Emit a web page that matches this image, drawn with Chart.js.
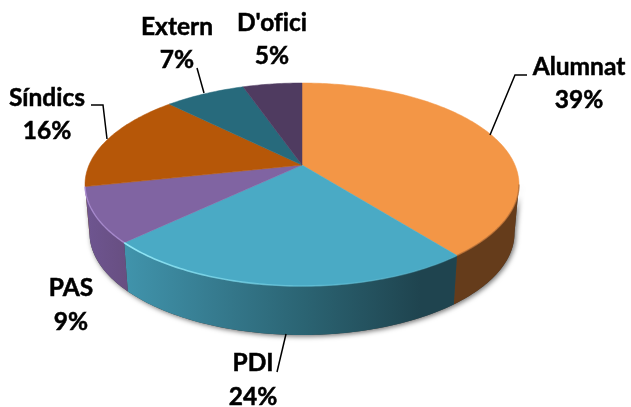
<!DOCTYPE html>
<html>
<head>
<meta charset="utf-8">
<style>
html, body { margin: 0; padding: 0; background: #fff; overflow: hidden; }
canvas { display: block; }
</style>
<script src="https://cdn.jsdelivr.net/npm/chart.js@4"></script>
</head>
<body>
<canvas id="chart" width="631" height="407"></canvas>
<script>
const categories = ["Alumnat", "PDI", "PAS", "Síndics", "Extern", "D'ofici"];
// read from the slice seams; the labels show them rounded
const shares = [39.4, 23.5, 8.7, 15.9, 7.2, 5.3];

const topColors = ["#F39646", "#4AAAC5", "#8064A2", "#B65708", "#276A7C", "#4F3B60"];
const wallColors = ["#653C1B", "#2F6E80", "#6A5185", "#7A3A06", "#1A4753", "#352840"];

// text anchors: x, y of the name line, y of the percent line
const labelX = [579, 253, 71, 47, 177, 272];
const labelNameY = [67, 363, 288, 98, 27, 23];
const labelPctY = [100, 397, 322, 131, 60, 56];

const leaders = [
    [[490, 135], [515, 75], [527, 75]],
    [[286, 334], [277, 372]],
    [[107, 139], [103, 105], [91, 105]],
    [[204, 93], [197, 68]]
];

// the pie is tilted: rim ellipses and how far the centre is pushed up
const rimTop = { cx: 302, cy: 184.5, rx: 217, ry: 101.5 };
const rimBottom = { cx: 302, cy: 233, rx: 212.5, ry: 102 };
const tilt = -0.192;
const wallFrom = Math.asin(-tilt);
const wallTo = Math.PI - wallFrom;

function project(angle, rim) {
    const u = Math.cos(angle), v = Math.sin(angle);
    const den = 1 + tilt * v;
    return {
        x: rim.cx + rim.rx * u * Math.sqrt(1 - tilt * tilt) / den,
        y: rim.cy + rim.ry * (v + tilt) / den
    };
}

function rimPath(ctx, from, to, rim, first) {
    const steps = Math.max(2, Math.ceil(Math.abs(to - from) * 60));
    for (let i = 0; i <= steps; i++) {
        const p = project(from + (to - from) * i / steps, rim);
        if (i === 0 && first) ctx.moveTo(p.x, p.y);
        else ctx.lineTo(p.x, p.y);
    }
}

function wallPath(ctx, from, to) {
    ctx.beginPath();
    rimPath(ctx, from, to, rimTop, true);
    rimPath(ctx, to, from, rimBottom, false);
    ctx.closePath();
}

function wallFill(ctx, i) {
    if (i === 1) {
        const g = ctx.createLinearGradient(127, 0, 420, 0);
        g.addColorStop(0, "#4093AB");
        g.addColorStop(0.3, "#367B8F");
        g.addColorStop(0.6, "#2B6473");
        g.addColorStop(1, "#1F444F");
        return g;
    }
    if (i === 2) {
        const g = ctx.createLinearGradient(87, 0, 130, 0);
        g.addColorStop(0, "#6E5590");
        g.addColorStop(1, "#674E80");
        return g;
    }
    return wallColors[i];
}

const pie3d = {
    id: "pie3d",
    beforeDatasetsDraw(chart) {
        const ctx = chart.ctx;
        const arcs = chart.getDatasetMeta(0).data;

        // ground shadow under the whole wall
        ctx.save();
        ctx.shadowColor = "rgba(0,0,0,0.55)";
        ctx.shadowBlur = 5;
        ctx.shadowOffsetX = 1.5;
        ctx.shadowOffsetY = 1.5;
        ctx.fillStyle = "#444";
        wallPath(ctx, wallFrom, wallTo);
        ctx.fill();
        ctx.restore();

        arcs.forEach((arc, i) => {
            const from = Math.max(arc.startAngle, wallFrom);
            const to = Math.min(arc.endAngle, wallTo);
            if (to <= from) return;
            wallPath(ctx, from, to);
            ctx.fillStyle = wallFill(ctx, i);
            ctx.fill();
        });

        arcs.forEach((arc, i) => {
            ctx.beginPath();
            ctx.moveTo(rimTop.cx, rimTop.cy + rimTop.ry * tilt);
            rimPath(ctx, arc.startAngle, arc.endAngle, rimTop, false);
            ctx.closePath();
            ctx.fillStyle = topColors[i];
            ctx.strokeStyle = topColors[i];
            ctx.lineWidth = 0.5;
            ctx.fill();
            ctx.stroke();
        });

        // light bevel on the front rim
        const bevel = ctx.createLinearGradient(127, 0, 456, 0);
        bevel.addColorStop(0, "rgba(150,235,250,0.95)");
        bevel.addColorStop(0.45, "rgba(120,215,235,0.55)");
        bevel.addColorStop(1, "rgba(75,172,198,0.3)");
        ctx.beginPath();
        rimPath(ctx, arcs[1].startAngle, arcs[1].endAngle, rimTop, true);
        ctx.strokeStyle = bevel;
        ctx.lineWidth = 1.6;
        ctx.stroke();

        ctx.beginPath();
        rimPath(ctx, arcs[2].startAngle, arcs[2].endAngle, rimTop, true);
        ctx.strokeStyle = "rgba(175,145,215,0.8)";
        ctx.lineWidth = 1.4;
        ctx.stroke();

        ctx.beginPath();
        rimPath(ctx, wallFrom, arcs[0].endAngle, rimTop, true);
        ctx.strokeStyle = "rgba(160,95,45,0.6)";
        ctx.lineWidth = 1.4;
        ctx.stroke();

        return false;
    },
    afterDraw(chart) {
        const ctx = chart.ctx;
        ctx.save();
        ctx.strokeStyle = "#000";
        ctx.lineWidth = 1.5;
        leaders.forEach(line => {
            ctx.beginPath();
            line.forEach((p, i) => i ? ctx.lineTo(p[0], p[1]) : ctx.moveTo(p[0], p[1]));
            ctx.stroke();
        });

        ctx.fillStyle = "#000";
        ctx.font = "bold 24.5px Lato";
        ctx.letterSpacing = "0.01px"; // keeps the f and i of D'ofici apart
        ctx.textAlign = "center";
        ctx.textBaseline = "middle";
        ctx.lineWidth = 0.5;
        categories.forEach((name, i) => {
            const pct = Math.round(shares[i]) + "%";
            ctx.fillText(name, labelX[i], labelNameY[i]);
            ctx.strokeText(name, labelX[i], labelNameY[i]);
            ctx.fillText(pct, labelX[i], labelPctY[i]);
            ctx.strokeText(pct, labelX[i], labelPctY[i]);
        });
        ctx.restore();
    }
};

new Chart(document.getElementById("chart"), {
    type: "pie",
    data: {
        labels: categories,
        datasets: [{ data: shares, backgroundColor: topColors, borderWidth: 0 }]
    },
    options: {
        responsive: false,
        animation: false,
        events: [],
        plugins: {
            legend: { display: false },
            tooltip: { enabled: false }
        }
    },
    plugins: [pie3d]
});
</script>
</body>
</html>
